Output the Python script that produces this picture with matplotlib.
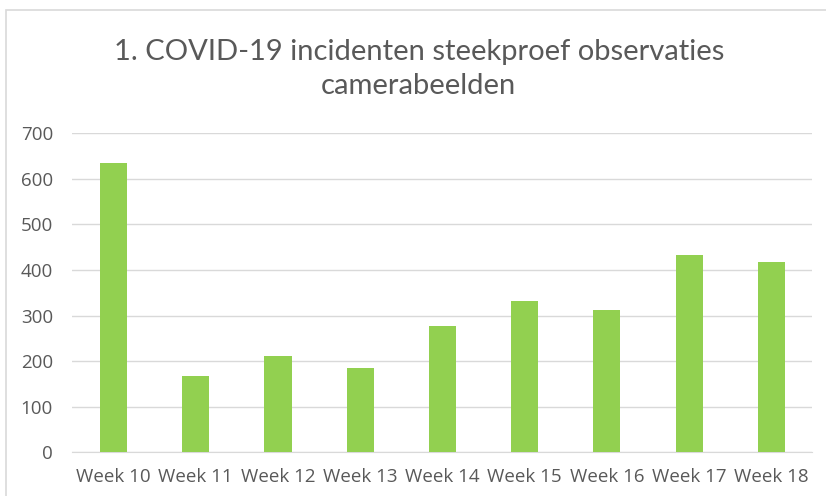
#!/usr/bin/env python3
"""
Bar chart of COVID-19 incidents per week from camera observations.
"""

import matplotlib
matplotlib.use("Agg")
import matplotlib.pyplot as plt
from matplotlib.patches import Rectangle

weeks = ["Week 10", "Week 11", "Week 12", "Week 13", "Week 14",
         "Week 15", "Week 16", "Week 17", "Week 18"]
incidents = [634, 167, 212, 185, 277, 331, 312, 432, 418]
y_ticks = [0, 100, 200, 300, 400, 500, 600, 700]

title = "1. COVID-19 incidenten steekproef observaties\ncamerabeelden"

plt.rcParams['font.family'] = ['Lato', 'DejaVu Sans']

fig = plt.figure(figsize=(8.26, 4.96), dpi=100)

# chart frame (runs off the right and bottom edges)
fig.patches.append(Rectangle((6 / 826, -0.1), 1.0, (496 - 9.5) / 496 + 0.1,
                             transform=fig.transFigure, fill=False,
                             edgecolor='#D9D9D9', linewidth=1.2))

ax = fig.add_axes([0.0877, 0.0881, 0.8959, 0.6431])
ax.bar(range(len(weeks)), incidents, width=0.33, color='#92D050', zorder=3)

ax.set_xlim(-0.5, len(weeks) - 0.5)
ax.set_ylim(0, 700)
ax.set_yticks(y_ticks)
ax.set_xticks(range(len(weeks)))
ax.set_xticklabels(weeks)

ax.grid(axis='y', color='#D9D9D9', linewidth=1.0, zorder=0)
for side in ['top', 'right', 'left']:
    ax.spines[side].set_visible(False)
ax.spines['bottom'].set_color('#D9D9D9')
ax.tick_params(axis='both', length=0, colors='#595959', labelsize=13.5)
for lbl in ax.get_xticklabels() + ax.get_yticklabels():
    lbl.set_family(['Open Sans', 'DejaVu Sans'])
ax.tick_params(axis='y', pad=14)
ax.tick_params(axis='x', pad=11)

fig.text(0.507, (496 - 69) / 496, title, ha='center', va='center',
         fontsize=21, color='#595959', linespacing=1.42)

fig.savefig("out.png", dpi=100)
